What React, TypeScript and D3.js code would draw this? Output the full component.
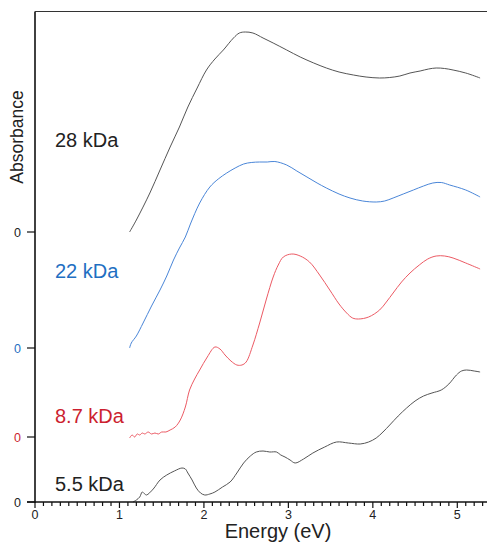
import { useEffect, useRef } from "react";
import * as d3 from "d3";

const WIDTH = 487;
const HEIGHT = 542;

// series data: energy (eV) and absorbance (arbitrary units, offset per trace)
const names = ["28 kDa", "22 kDa", "8.7 kDa", "5.5 kDa"];
const offsets = [2.70, 1.54, 0.65, 0];
const lineColors = ["#555555", "#4a86d8", "#ec5a64", "#555555"];
const labelColors = ["#222222", "#1f6fc2", "#cc1f30", "#222222"];
const labelY = [2.70 + 0.85, 1.54 + 0.70, 0.65 + 0.14, 0.11];

const e28 = [1.12, 1.2, 1.36, 1.48, 1.6, 1.71, 1.81, 1.92, 2.03, 2.13, 2.23, 2.35, 2.42, 2.49, 2.58, 2.7, 2.82, 2.98, 3.14, 3.3, 3.45, 3.6, 3.77, 3.92, 4.08, 4.2, 4.32, 4.44, 4.56, 4.66, 4.75, 4.85, 4.95, 5.1, 5.27];
const a28 = [0.0, 0.12, 0.39, 0.62, 0.85, 1.05, 1.25, 1.44, 1.62, 1.73, 1.82, 1.94, 1.99, 2.0, 1.99, 1.94, 1.89, 1.82, 1.75, 1.69, 1.64, 1.6, 1.57, 1.55, 1.54, 1.545, 1.56, 1.59, 1.61, 1.63, 1.64, 1.635, 1.62, 1.59, 1.54];

const e22 = [1.12, 1.14, 1.2, 1.28, 1.38, 1.48, 1.56, 1.64, 1.71, 1.78, 1.84, 1.95, 2.07, 2.17, 2.27, 2.37, 2.47, 2.56, 2.66, 2.75, 2.84, 2.98, 3.1, 3.22, 3.34, 3.45, 3.6, 3.73, 3.88, 4.04, 4.14, 4.24, 4.36, 4.48, 4.6, 4.71, 4.81, 4.91, 5.1, 5.27];
const a22 = [0.0, 0.05, 0.12, 0.25, 0.42, 0.58, 0.72, 0.88, 1.0, 1.11, 1.24, 1.45, 1.61, 1.69, 1.75, 1.8, 1.84, 1.855, 1.86, 1.86, 1.865, 1.83, 1.77, 1.71, 1.65, 1.6, 1.54, 1.5, 1.47, 1.46, 1.47, 1.5, 1.54, 1.58, 1.62, 1.65, 1.655, 1.63, 1.58, 1.51];

const e87 = [1.12, 1.15, 1.18, 1.21, 1.24, 1.27, 1.3, 1.34, 1.38, 1.42, 1.46, 1.5, 1.55, 1.6, 1.66, 1.72, 1.78, 1.83, 1.89, 1.95, 2.04, 2.13, 2.19, 2.25, 2.32, 2.39, 2.45, 2.5, 2.58, 2.66, 2.74, 2.82, 2.88, 2.94, 3.04, 3.14, 3.25, 3.37, 3.49, 3.6, 3.69, 3.76, 3.83, 3.95, 4.08, 4.16, 4.24, 4.34, 4.44, 4.55, 4.65, 4.75, 4.85, 4.95, 5.1, 5.27];
const a87 = [-0.01, 0.02, 0.0, 0.03, 0.02, 0.04, 0.03, 0.05, 0.03, 0.04, 0.03, 0.05, 0.05, 0.07, 0.1, 0.17, 0.3, 0.47, 0.58, 0.67, 0.8, 0.9, 0.88, 0.82, 0.76, 0.72, 0.72, 0.75, 0.92, 1.14, 1.38, 1.6, 1.72, 1.8, 1.83, 1.81, 1.75, 1.62, 1.47, 1.33, 1.24, 1.19, 1.18, 1.2, 1.27, 1.35, 1.44, 1.55, 1.64, 1.72, 1.78, 1.81, 1.81, 1.79, 1.74, 1.68];

const e55 = [1.16, 1.2, 1.24, 1.27, 1.3, 1.32, 1.4, 1.48, 1.56, 1.65, 1.74, 1.78, 1.81, 1.86, 1.91, 1.96, 2.01, 2.07, 2.13, 2.22, 2.31, 2.39, 2.47, 2.55, 2.62, 2.7, 2.78, 2.86, 2.91, 2.96, 3.02, 3.08, 3.18, 3.29, 3.43, 3.57, 3.71, 3.85, 3.95, 4.04, 4.12, 4.2, 4.3, 4.4, 4.5, 4.6, 4.7, 4.81, 4.9, 4.99, 5.05, 5.11, 5.2, 5.27];
const a55 = [0.0, 0.02, 0.05, 0.1, 0.08, 0.07, 0.13, 0.22, 0.27, 0.31, 0.34, 0.33, 0.29, 0.22, 0.14, 0.09, 0.07, 0.08, 0.1, 0.15, 0.2, 0.29, 0.39, 0.46, 0.5, 0.51, 0.5, 0.5, 0.47, 0.45, 0.42, 0.39, 0.43, 0.49, 0.55, 0.6, 0.59, 0.58, 0.6, 0.64, 0.7, 0.77, 0.86, 0.94, 1.01, 1.06, 1.09, 1.12, 1.18, 1.27, 1.31, 1.32, 1.31, 1.3];

const energies = [e28, e22, e87, e55];
const absorb = [a28, a22, a87, a55];

const xTicks = [0, 1, 2, 3, 4, 5];

const MARGIN = { top: 11.5, right: 0, bottom: 40, left: 35 };

export default function App() {
  const ref = useRef<SVGSVGElement>(null);

  useEffect(() => {
    const svg = d3.select(ref.current);
    svg.selectAll("*").remove();

    const x = d3.scaleLinear().domain([0, 5]).range([MARGIN.left, 457.3]);
    const y = d3.scaleLinear().domain([0, 4.905]).range([HEIGHT - MARGIN.bottom, MARGIN.top]);
    const y0 = y(0);

    const font = "'Liberation Sans', Arial, sans-serif";

    // traces
    const line = d3
      .line<[number, number]>()
      .x((d) => x(d[0]))
      .y((d) => y(d[1]))
      .curve(d3.curveCatmullRom.alpha(0.5));

    energies.forEach((es, i) => {
      const pts: [number, number][] = es.map((e, j) => [e, absorb[i][j] + offsets[i]]);
      svg
        .append("path")
        .attr("d", line(pts))
        .attr("fill", "none")
        .attr("stroke", lineColors[i])
        .attr("stroke-width", 1);
    });

    // frame: left axis, top line, bottom axis
    const axisColor = "#111";
    svg.append("line").attr("x1", MARGIN.left).attr("x2", MARGIN.left)
      .attr("y1", MARGIN.top).attr("y2", y0 + 1).attr("stroke", axisColor).attr("stroke-width", 1.6);
    svg.append("line").attr("x1", MARGIN.left).attr("x2", WIDTH)
      .attr("y1", MARGIN.top).attr("y2", MARGIN.top).attr("stroke", "#333").attr("stroke-width", 1.2);
    svg.append("line").attr("x1", MARGIN.left - 8).attr("x2", WIDTH)
      .attr("y1", y0).attr("y2", y0).attr("stroke", axisColor).attr("stroke-width", 1.6);

    // x minor + major ticks
    const minor = d3.range(0, 54).map((d) => d / 10);
    svg.append("g").selectAll("line").data(minor).join("line")
      .attr("x1", (d) => x(d)).attr("x2", (d) => x(d))
      .attr("y1", y0).attr("y2", (d) => (Math.round(d * 10) % 10 === 0 ? y0 + 6 : y0 + 4))
      .attr("stroke", axisColor).attr("stroke-width", 1.2);

    svg.append("g").selectAll("text").data(xTicks).join("text")
      .attr("x", (d) => x(d)).attr("y", y0 + 17)
      .attr("text-anchor", "middle")
      .attr("font-family", font).attr("font-size", 12.5).attr("fill", "#222")
      .text((d) => String(d));

    // y zero ticks per trace
    offsets.forEach((o, i) => {
      const yy = y(o);
      svg.append("line").attr("x1", MARGIN.left - 8).attr("x2", MARGIN.left)
        .attr("y1", yy).attr("y2", yy).attr("stroke", axisColor).attr("stroke-width", 1.2);
      svg.append("text").attr("x", 21).attr("y", yy + 4.5)
        .attr("text-anchor", "end")
        .attr("font-family", font).attr("font-size", 12.5)
        .attr("fill", i === 1 ? labelColors[1] : i === 2 ? labelColors[2] : "#222")
        .text("0");
    });

    // series labels
    names.forEach((n, i) => {
      svg.append("text").attr("x", 55).attr("y", y(labelY[i]))
        .attr("font-family", font).attr("font-size", 20)
        .attr("fill", labelColors[i])
        .text(n);
    });

    // axis titles
    svg.append("text")
      .attr("x", 278).attr("y", HEIGHT - 4)
      .attr("text-anchor", "middle")
      .attr("font-family", font).attr("font-size", 20).attr("fill", "#222")
      .text("Energy (eV)");

    svg.append("text")
      .attr("transform", `translate(23, 137) rotate(-90)`)
      .attr("text-anchor", "middle")
      .attr("font-family", font).attr("font-size", 17.5).attr("fill", "#222")
      .text("Absorbance");
  }, []);

  return (
    <svg
      ref={ref}
      width={WIDTH}
      height={HEIGHT}
      style={{ position: "absolute", left: 0, top: 0, background: "#fff" }}
    />
  );
}
